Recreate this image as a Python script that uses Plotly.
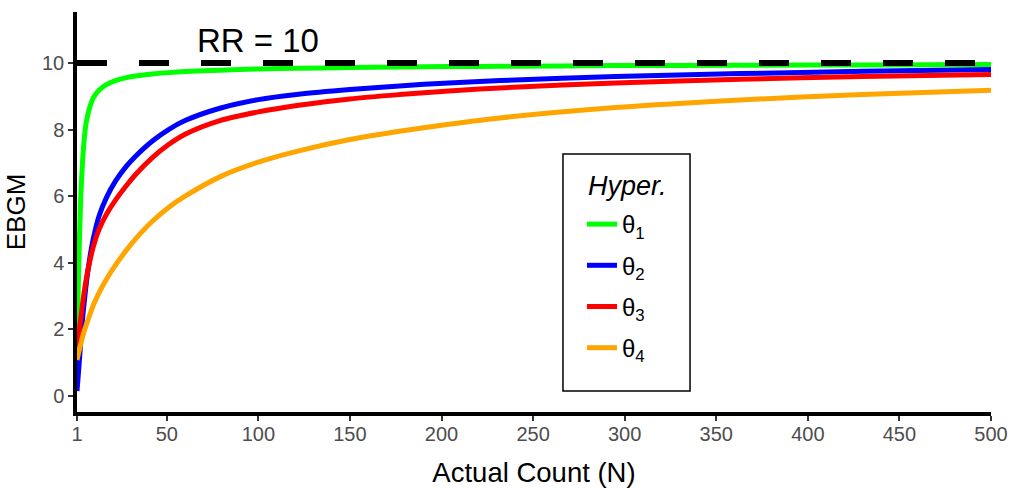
import plotly.graph_objects as go

# Actual count N (x) sample points
n_vals = [1, 2, 3, 4, 5, 6, 8, 10, 13, 17, 22, 28, 33, 42, 51, 60, 79, 100,
          122, 150, 177, 204, 232, 295, 363, 430, 500]

# EBGM curves for each hyper-parameter set
green_theta1 = [1.6, 4.0, 5.9, 7.0, 7.75, 8.2, 8.68, 8.96, 9.18, 9.35, 9.47, 9.56, 9.61,
                9.67, 9.71, 9.74, 9.78, 9.82, 9.84, 9.86, 9.88, 9.89, 9.9, 9.92, 9.93, 9.94, 9.95]
blue_theta2 = [0.15, 0.85, 1.6, 2.3, 2.85, 3.35, 4.15, 4.75, 5.4, 5.95, 6.45, 6.9, 7.2,
               7.65, 8.0, 8.27, 8.64, 8.9, 9.06, 9.2, 9.31, 9.4, 9.47, 9.59, 9.68, 9.75, 9.8]
red_theta3 = [1.45, 1.85, 2.3, 2.75, 3.15, 3.5, 4.05, 4.5, 5.0, 5.45, 5.88, 6.32, 6.65,
              7.15, 7.55, 7.86, 8.27, 8.53, 8.73, 8.92, 9.05, 9.16, 9.25, 9.4, 9.51, 9.59, 9.65]
orange_theta4 = [1.08, 1.32, 1.55, 1.77, 1.96, 2.13, 2.44, 2.74, 3.1, 3.5, 3.93, 4.38, 4.72,
                 5.24, 5.66, 6.0, 6.58, 7.02, 7.36, 7.7, 7.95, 8.16, 8.35, 8.66, 8.89, 9.05, 9.18]

series_names = ["θ<sub>1</sub>", "θ<sub>2</sub>", "θ<sub>3</sub>", "θ<sub>4</sub>"]
series_values = [green_theta1, blue_theta2, red_theta3, orange_theta4]
series_colors = ["#00FF00", "#0000FF", "#FF0000", "#FFA500"]

# True relative risk reference line
rr_x = [1, 500]
rr_y = [10, 10]
rr_label = "RR = 10"

legend_title = "<i>Hyper.</i>"
x_ticks = [1, 50, 100, 150, 200, 250, 300, 350, 400, 450, 500]
y_ticks = [0, 2, 4, 6, 8, 10]

FONT = "Liberation Sans, Arial, sans-serif"

fig = go.Figure()
for i, (name, vals, col) in enumerate(zip(series_names, series_values, series_colors)):
    fig.add_trace(go.Scatter(
        x=n_vals, y=vals, mode="lines", name=name,
        line=dict(color=col, width=5, shape="spline", smoothing=0.8),
        legendgroup=f"g{i}",
    ))

fig.add_trace(go.Scatter(
    x=rr_x, y=rr_y, mode="lines", showlegend=False,
    line=dict(color="black", width=6, dash="30px,32px"),
))

fig.add_annotation(x=100, y=10.66, text=rr_label, showarrow=False,
                   xanchor="center", yanchor="middle",
                   font=dict(size=33, color="black", family=FONT))

# legend frame and title
fig.add_shape(type="rect", xref="paper", yref="paper",
              x0=0.5317, x1=0.6707, y0=0.0525, y1=0.645,
              line=dict(color="black", width=1.5), fillcolor="white", layer="above")
fig.add_annotation(xref="paper", yref="paper", x=0.557, y=0.565,
                   text=legend_title, showarrow=False, xanchor="left", yanchor="middle",
                   font=dict(size=27, color="black", family=FONT))

fig.update_layout(
    width=1013, height=490,
    margin=dict(l=77, r=22, t=12, b=78),
    paper_bgcolor="white", plot_bgcolor="white",
    font=dict(family=FONT),
    legend=dict(
        font=dict(size=24, color="black", family=FONT),
        x=0.5525, y=0.525, xanchor="left", yanchor="top",
        borderwidth=0, bgcolor="rgba(0,0,0,0)",
        tracegroupgap=7,
    ),
    xaxis=dict(
        range=[1, 500], tickvals=x_ticks, ticktext=[str(t) for t in x_ticks],
        showgrid=False, zeroline=False, automargin=False,
        showline=True, linecolor="black", linewidth=3.5,
        ticks="outside", ticklen=5, tickwidth=1.5, tickcolor="#333333",
        tickfont=dict(size=20, color="#4D4D4D", family=FONT),
        ticklabelstandoff=-4,
        title=dict(text="Actual Count (N)", font=dict(size=27.5, color="black", family=FONT), standoff=20),
    ),
    yaxis=dict(
        range=[-0.48, 11.53], tickvals=y_ticks, ticktext=[str(t) for t in y_ticks],
        showgrid=False, zeroline=False, automargin=False,
        showline=True, linecolor="black", linewidth=3.5,
        ticks="outside", ticklen=5, tickwidth=1.5, tickcolor="#333333",
        tickfont=dict(size=20, color="#4D4D4D", family=FONT),
        title=dict(text="EBGM", font=dict(size=26, color="black", family=FONT), standoff=10),
    ),
)

fig.write_html("out.html")
